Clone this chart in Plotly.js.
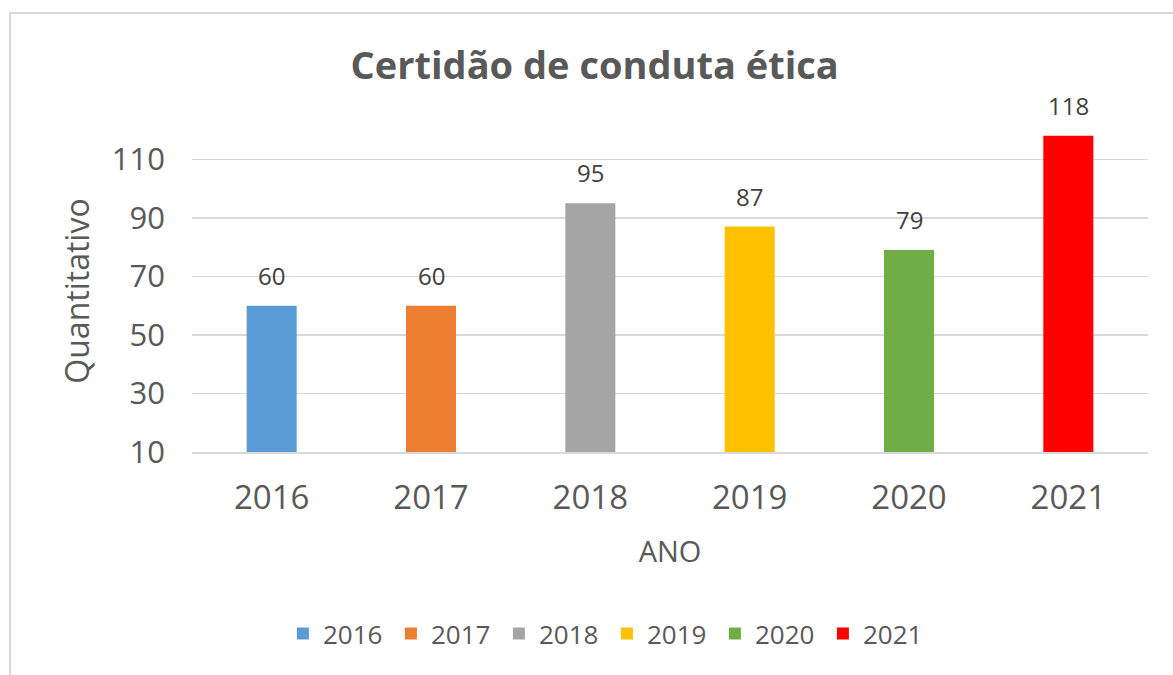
<!DOCTYPE html>
<html><head><meta charset="utf-8">
<script src="https://cdn.plot.ly/plotly-3.0.1.min.js"></script>
<style>
html,body{margin:0;padding:0;background:#fff;}
#wrap{position:relative;width:1173px;height:675px;overflow:hidden;}
#frame{position:absolute;left:9px;top:12px;width:1200px;height:700px;border:2px solid #d9d9d9;box-sizing:border-box;pointer-events:none;}
#chart{position:absolute;left:0;top:0;width:1173px;height:675px;}
</style></head>
<body><div id="wrap"><div id="chart"></div><div id="frame"></div></div>
<script>
const years = ['2016','2017','2018','2019','2020','2021'];
const values = [60, 60, 95, 87, 79, 118];
const colors = ['#5B9BD5','#ED7D31','#A5A5A5','#FFC000','#70AD47','#FF0000'];
const yTicks = [10, 30, 50, 70, 90, 110];

const FONT = '"Open Sans", sans-serif';
const GRAY = '#595959';

const traces = years.map((y, i) => ({
  type: 'bar', name: y, x: [y], y: [values[i]], base: 0,
  marker: {color: colors[i]}, width: 0.314, hoverinfo: 'skip'
}));

const annotations = years.map((y, i) => ({
  x: i, y: values[i], xref: 'x', yref: 'y', text: String(values[i]),
  showarrow: false, yanchor: 'bottom', yshift: 12,
  font: {family: FONT, size: 24, color: '#404040'}
}));

const layout = {
  width: 1173, height: 675,
  margin: {l: 192, r: 25, t: 130, b: 223},
  paper_bgcolor: 'rgba(0,0,0,0)', plot_bgcolor: '#fff',
  barmode: 'overlay',
  title: {text: '<b>Certidão de conduta ética</b>', font: {family: FONT, size: 38, color: GRAY},
          xref: 'container', x: 0.507, xanchor: 'center', yref: 'container', y: 1 - 66/675, yanchor: 'middle'},
  xaxis: {type: 'category', categoryarray: years, range: [-0.5, 5.5],
          showgrid: false, showline: true, linecolor: '#d9d9d9', linewidth: 1.5, ticks: '',
          tickfont: {family: FONT, size: 33, color: GRAY}, ticklabelstandoff: 16,
          title: {text: 'ANO', font: {family: FONT, size: 29, color: GRAY}, standoff: 23}},
  yaxis: {range: [10, 120], tickvals: yTicks, ticktext: yTicks.map(String),
          showgrid: true, gridcolor: '#d9d9d9', gridwidth: 1.5, zeroline: false, showline: false, ticks: '',
          tickfont: {family: FONT, size: 31, color: GRAY}, ticklabelstandoff: 26,
          title: {text: 'Quantitativo', font: {family: FONT, size: 32, color: GRAY}, standoff: 12}},
  showlegend: true,
  legend: {orientation: 'h', x: 0.434, xanchor: 'center', y: -0.564, yanchor: 'middle',
           font: {family: FONT, size: 26, color: GRAY}, traceorder: 'normal', itemwidth: 30,
           entrywidth: 63, entrywidthmode: 'pixels'},
  annotations: annotations
};

Plotly.newPlot('chart', traces, layout, {displayModeBar: false, staticPlot: true});
</script></body></html>
